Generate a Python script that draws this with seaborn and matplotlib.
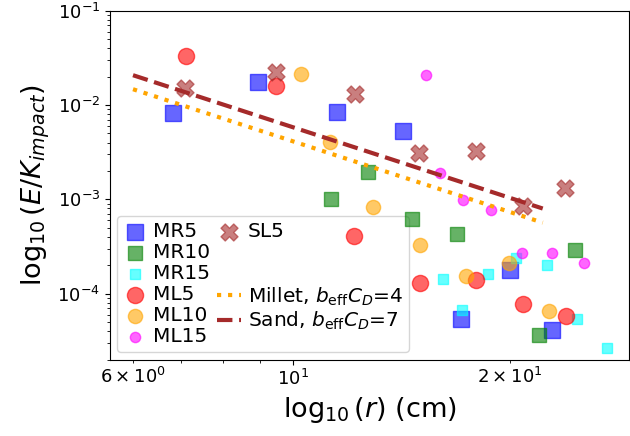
import matplotlib
matplotlib.use("Agg")
import matplotlib.pyplot as plt
from matplotlib.lines import Line2D
import seaborn as sns
import pandas as pd

# Series: radius r (cm) and normalised energy E/K_impact
mr5_r = [6.82, 8.94, 11.5, 14.21, 17.09, 19.98, 22.9]
mr5_e = [8.2e-3, 1.75e-2, 8.4e-3, 5.3e-3, 5.4e-5, 1.77e-4, 4.07e-5]

mr10_r = [11.29, 12.72, 14.61, 16.87, 21.96, 24.6]
mr10_e = [1.0e-3, 1.95e-3, 6.25e-4, 4.33e-4, 3.6e-5, 2.88e-4]

mr15_r = [16.16, 17.18, 18.62, 20.39, 22.48, 24.8, 27.23]
mr15_e = [1.44e-4, 6.65e-5, 1.63e-4, 2.41e-4, 2.0e-4, 5.33e-5, 2.64e-5]

ml5_r = [7.10, 9.47, 12.15, 15.0, 17.94, 20.86, 23.89]
ml5_e = [3.33e-2, 1.59e-2, 4.06e-4, 1.28e-4, 1.38e-4, 7.83e-5, 5.74e-5]

ml10_r = [10.26, 11.25, 12.92, 15.0, 17.38, 19.95, 22.65]
ml10_e = [2.13e-2, 4.06e-3, 8.3e-4, 3.31e-4, 1.53e-4, 2.11e-4, 6.49e-5]

ml15_r = [15.28, 15.99, 17.19, 18.82, 20.76, 22.9, 25.35]
ml15_e = [2.06e-2, 1.88e-3, 9.78e-4, 7.65e-4, 2.70e-4, 2.70e-4, 2.13e-4]

sl5_r = [7.08, 9.47, 12.19, 14.97, 17.92, 20.86, 23.84]
sl5_e = [1.52e-2, 2.25e-2, 1.31e-2, 3.11e-3, 3.27e-3, 8.5e-4, 1.32e-3]

# Model curves (power laws, straight on log-log axes): end points
model_r = [6.0, 22.2]
millet_e = [1.47e-2, 5.65e-4]
sand_e = [2.07e-2, 7.98e-4]

fig = plt.figure(figsize=(6.3, 4.36), dpi=100)
ax = fig.add_axes([110 / 630, 1 - 359.5 / 436, (629 - 110) / 630, (359.5 - 10.7) / 436])

series = [
    ("MR5", mr5_r, mr5_e, "blue", "s", 125),
    ("MR10", mr10_r, mr10_e, "green", "s", 90),
    ("MR15", mr15_r, mr15_e, "cyan", "s", 45),
    ("ML5", ml5_r, ml5_e, "red", "o", 135),
    ("ML10", ml10_r, ml10_e, "orange", "o", 105),
    ("ML15", ml15_r, ml15_e, "magenta", "o", 55),
    ("SL5", sl5_r, sl5_e, "brown", "X", 150),
]

handles = {}
for name, r, e, col, mk, size in series:
    df = pd.DataFrame({"r": r, "e": e})
    sns.scatterplot(data=df, x="r", y="e", ax=ax, color=col, marker=mk, s=size,
                    alpha=0.6, edgecolor=col, linewidth=1.0, label=name, legend=False)
    handles[name] = ax.collections[-1]

models = pd.DataFrame({"r": model_r, "millet": millet_e, "sand": sand_e})
sns.lineplot(data=models, x="r", y="millet", ax=ax, color="orange", linestyle=":",
             linewidth=3, label=r"Millet, $b_{\rm eff}C_D$=4", legend=False)
millet_line = ax.lines[-1]
sns.lineplot(data=models, x="r", y="sand", ax=ax, color="brown", linestyle="--",
             linewidth=3, label=r"Sand, $b_{\rm eff}C_D$=7", legend=False)
sand_line = ax.lines[-1]

ax.set_xscale("log")
ax.set_yscale("log")
ax.set_xlim(5.575, 29.24)
ax.set_ylim(2e-5, 1e-1)

ax.set_xlabel(r"$\log_{10}(r)$ (cm)", fontsize=19.5)
ax.set_ylabel(r"$\log_{10}(E/K_{impact})$", fontsize=19.5)
ax.tick_params(axis="both", which="both", labelsize=13)

blank = Line2D([], [], linestyle="none", marker="none")
leg_handles = [handles["MR5"], handles["MR10"], handles["MR15"],
               handles["ML5"], handles["ML10"], handles["ML15"],
               handles["SL5"], blank, blank, millet_line, sand_line]
leg_labels = ["MR5", "MR10", "MR15", "ML5", "ML10", "ML15",
              "SL5", "", "", r"Millet, $b_{\rm eff}C_D$=4", r"Sand, $b_{\rm eff}C_D$=7"]
leg = ax.legend(leg_handles, leg_labels, ncol=2, loc="lower left", fontsize=14.5,
                labelspacing=0.1, handlelength=1.15, handletextpad=0.35,
                columnspacing=0.35, borderpad=0.3, borderaxespad=0.35)
# keep the data markers visible on top of the legend box
leg.set_zorder(0.5)

fig.savefig("out.png", dpi=100)
